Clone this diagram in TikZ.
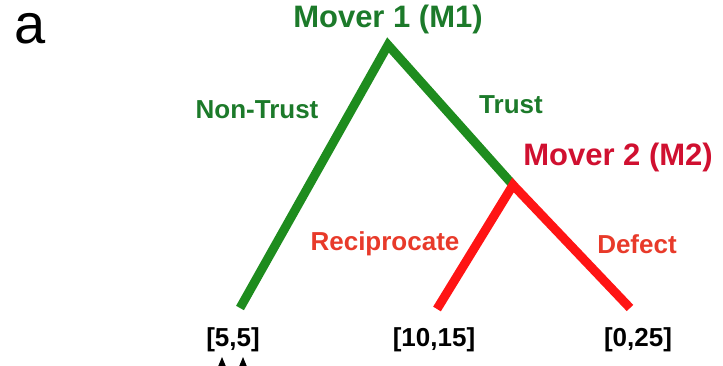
\documentclass[tikz,border=0pt]{standalone}
\usepackage{fontspec}
\setmainfont{Liberation Sans}
\usetikzlibrary{arrows.meta}

\definecolor{branchgreen}{RGB}{30,140,30}
\definecolor{labelgreen}{RGB}{28,122,42}
\definecolor{branchred}{RGB}{255,20,20}
\definecolor{moverred}{RGB}{208,16,48}
\definecolor{labelred}{RGB}{232,58,42}

\begin{document}
\begin{tikzpicture}[x=1pt,y=-1pt,line cap=butt,line join=miter,
  mover/.style={font=\fontsize{31}{34}\selectfont\bfseries, inner sep=0pt},
  movelabel/.style={font=\fontsize{26}{30}\selectfont\bfseries, inner sep=0pt},
  payoff/.style={font=\fontsize{26}{30}\selectfont\bfseries, inner sep=0pt, black}]
  \useasboundingbox (0,0) rectangle (723,365);

  % panel letter
  \node[font=\fontsize{56}{60}\selectfont, inner sep=0pt] (panel) at (30,29) {a};

  % decision points and branch ends
  \coordinate (m1) at (388,45);
  \coordinate (m2) at (513,185);
  \coordinate (endA) at (240,308);
  \coordinate (endB) at (437,309);
  \coordinate (endC) at (630,308);

  % branches
  \draw[branchgreen, line width=9pt] (endA) -- (m1) -- (m2);
  \draw[branchred, line width=9pt] (endB) -- (m2) -- (endC);

  % movers
  \node[mover, labelgreen] (mover1) at (388,19) {Mover 1 (M1)};
  \node[mover, moverred] (mover2) at (618,157) {Mover 2 (M2)};

  % moves
  \node[movelabel, labelgreen] (nontrust) at (257,110) {Non-Trust};
  \node[movelabel, labelgreen] (trust) at (511,105) {Trust};
  \node[movelabel, labelred] (recip) at (385,244) {Reciprocate};
  \node[movelabel, labelred] (defect) at (637,244) {Defect};

  % payoffs
  \node[payoff] (payA) at (233,340) {[5,5]};
  \node[payoff] (payB) at (434,340) {[10,15]};
  \node[payoff] (payC) at (638,340) {[0,25]};

  % markers below the first payoff
  \foreach \px/\nm in {222/tipL,243/tipR}{
    \coordinate (\nm) at (\px,357);
    \draw[-{Triangle[length=10pt,width=8pt]}, black, line width=1pt] (\px,380) -- (\nm);
  }
\end{tikzpicture}
\end{document}
